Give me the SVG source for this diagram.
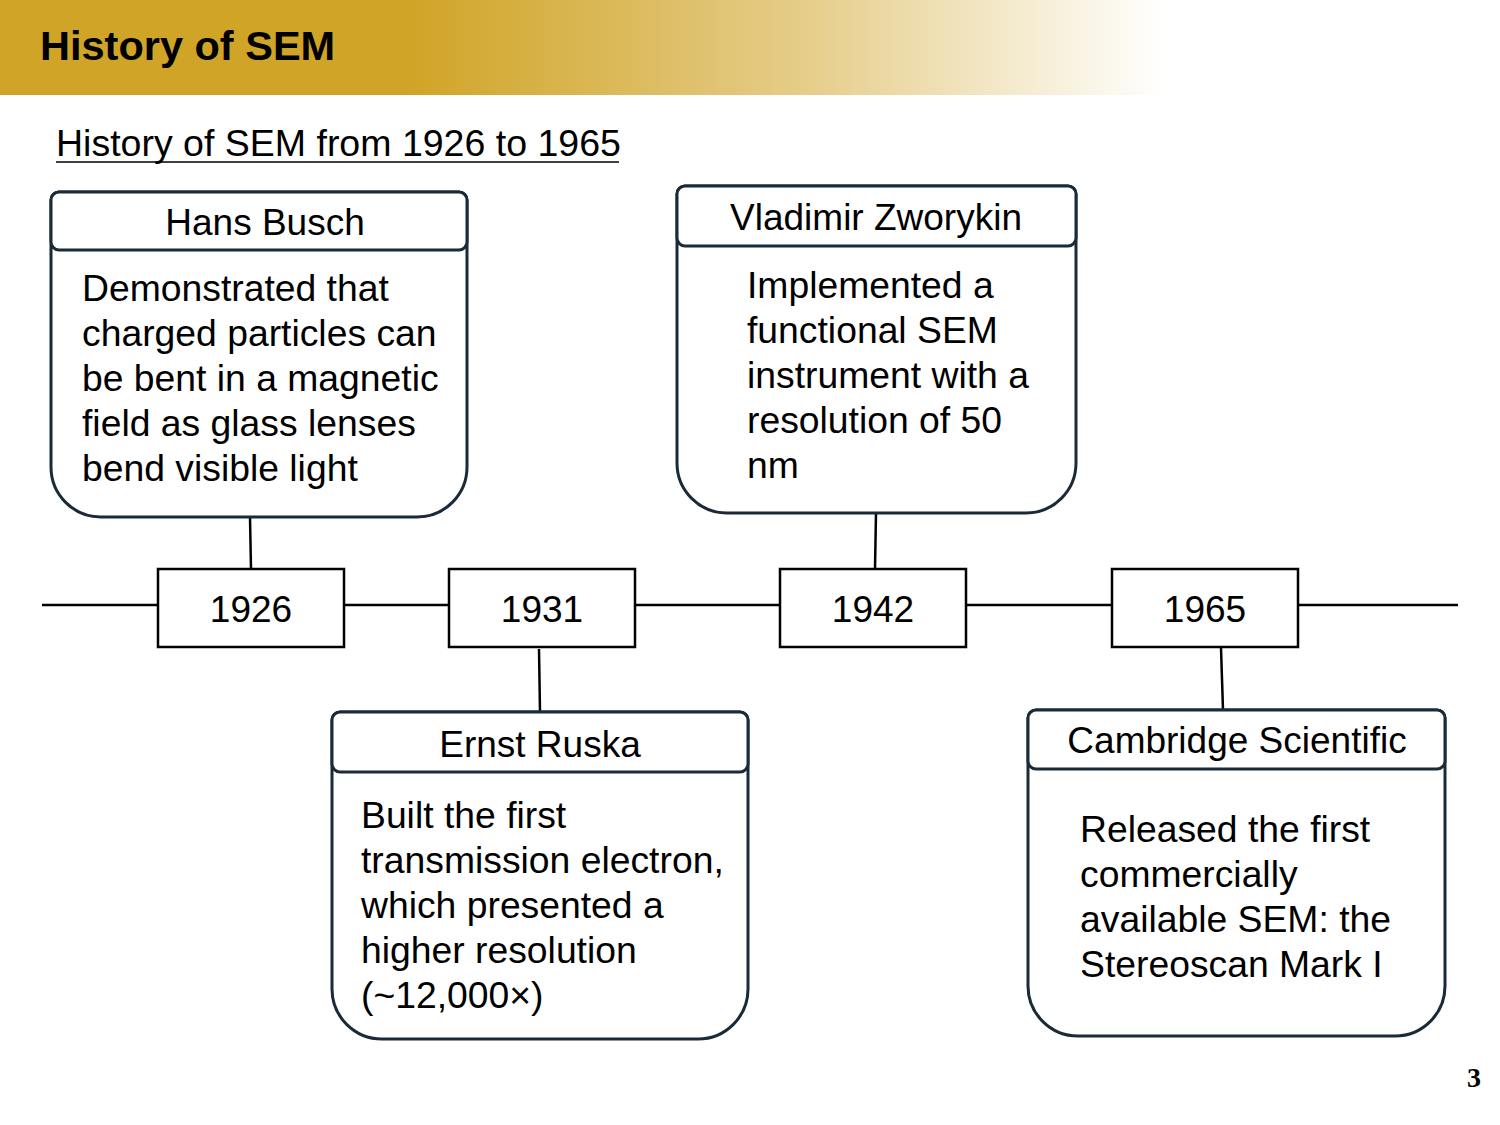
<svg xmlns="http://www.w3.org/2000/svg" width="1500" height="1125" viewBox="0 0 1500 1125">
  <defs>
    <linearGradient id="bandFill" gradientUnits="userSpaceOnUse" x1="0" y1="0" x2="1165" y2="0">
      <stop offset="0" stop-color="#D0A426"/>
      <stop offset="0.35" stop-color="#D0A426"/>
      <stop offset="0.7" stop-color="#E6CE8C"/>
      <stop offset="1" stop-color="#FFFFFF"/>
    </linearGradient>
  </defs>
  <style>
    text { font-family: "Liberation Sans", Arial, sans-serif; fill: #000; }
    .title { font-size: 41.5px; font-weight: bold; }
    .subtitle { font-size: 37.5px; }
    .head { font-size: 37px; text-anchor: middle; }
    .body { font-size: 37.3px; }
    .year { font-size: 37px; text-anchor: middle; }
    .card { fill: #fff; stroke: #1B2A38; stroke-width: 3; }
    .yearbox { fill: #fff; stroke: #000; stroke-width: 2.5; }
    .link { stroke: #000; stroke-width: 2.5; fill: none; }
    .pagenum { font-family: "Liberation Serif", "Times New Roman", serif; font-size: 28px; font-weight: bold; text-anchor: middle; }
  </style>

  <rect width="1500" height="1125" fill="#fff"/>

  <!-- title band -->
  <rect x="0" y="0" width="1165" height="95" fill="url(#bandFill)"/>
  <text class="title" x="40" y="60">History of SEM</text>

  <text class="subtitle" x="56" y="156">History of SEM from 1926 to 1965</text>
  <line x1="56" y1="162" x2="619" y2="162" stroke="#000" stroke-width="1.5"/>

  <!-- connectors -->
  <g id="connectors">
    <line class="link" x1="42" y1="605" x2="1458" y2="605"/>
    <line class="link" x1="250" y1="517" x2="251" y2="569"/>
    <line class="link" x1="876" y1="513" x2="875" y2="569"/>
    <line class="link" x1="539" y1="649" x2="540" y2="712"/>
    <line class="link" x1="1221" y1="648" x2="1223" y2="710"/>
  </g>

  <!-- year markers -->
  <g id="year-1926">
    <rect class="yearbox" x="158" y="569" width="186" height="78"/>
    <text class="year" x="251" y="622">1926</text>
  </g>
  <g id="year-1931">
    <rect class="yearbox" x="449" y="569" width="186" height="78"/>
    <text class="year" x="542" y="622">1931</text>
  </g>
  <g id="year-1942">
    <rect class="yearbox" x="780" y="569" width="186" height="78"/>
    <text class="year" x="873" y="622">1942</text>
  </g>
  <g id="year-1965">
    <rect class="yearbox" x="1112" y="569" width="186" height="78"/>
    <text class="year" x="1205" y="622">1965</text>
  </g>

  <!-- event cards -->
  <g id="card-busch">
    <path class="card" d="M51,200 A8,8 0 0 1 59,192 H459 A8,8 0 0 1 467,200 V467 A50,50 0 0 1 417,517 H101 A50,50 0 0 1 51,467 Z"/>
    <rect class="card" x="51" y="192" width="416" height="58" rx="8"/>
    <text class="head" x="265" y="235">Hans Busch</text>
    <text class="body" x="82" y="301">Demonstrated that</text>
    <text class="body" x="82" y="346">charged particles can</text>
    <text class="body" x="82" y="391">be bent in a magnetic</text>
    <text class="body" x="82" y="436">field as glass lenses</text>
    <text class="body" x="82" y="481">bend visible light</text>
  </g>

  <g id="card-zworykin">
    <path class="card" d="M677,194 A8,8 0 0 1 685,186 H1068 A8,8 0 0 1 1076,194 V463 A50,50 0 0 1 1026,513 H727 A50,50 0 0 1 677,463 Z"/>
    <rect class="card" x="677" y="186" width="399" height="60" rx="8"/>
    <text class="head" x="876" y="230">Vladimir Zworykin</text>
    <text class="body" x="747" y="298">Implemented a</text>
    <text class="body" x="747" y="343">functional SEM</text>
    <text class="body" x="747" y="388">instrument with a</text>
    <text class="body" x="747" y="433">resolution of 50</text>
    <text class="body" x="747" y="478">nm</text>
  </g>

  <g id="card-ruska">
    <path class="card" d="M332,720 A8,8 0 0 1 340,712 H740 A8,8 0 0 1 748,720 V989 A50,50 0 0 1 698,1039 H382 A50,50 0 0 1 332,989 Z"/>
    <rect class="card" x="332" y="712" width="416" height="60" rx="8"/>
    <text class="head" x="540" y="757">Ernst Ruska</text>
    <text class="body" x="361" y="828">Built the first</text>
    <text class="body" x="361" y="873">transmission electron,</text>
    <text class="body" x="361" y="918">which presented a</text>
    <text class="body" x="361" y="963">higher resolution</text>
    <text class="body" x="361" y="1008">(~12,000×)</text>
  </g>

  <g id="card-cambridge">
    <path class="card" d="M1028,718 A8,8 0 0 1 1036,710 H1437 A8,8 0 0 1 1445,718 V986 A50,50 0 0 1 1395,1036 H1078 A50,50 0 0 1 1028,986 Z"/>
    <rect class="card" x="1028" y="710" width="417" height="59" rx="8"/>
    <text class="head" x="1237" y="753">Cambridge Scientific</text>
    <text class="body" x="1080" y="842">Released the first</text>
    <text class="body" x="1080" y="887">commercially</text>
    <text class="body" x="1080" y="932">available SEM: the</text>
    <text class="body" x="1080" y="977">Stereoscan Mark I</text>
  </g>

  <text class="pagenum" x="1474" y="1087">3</text>
</svg>
